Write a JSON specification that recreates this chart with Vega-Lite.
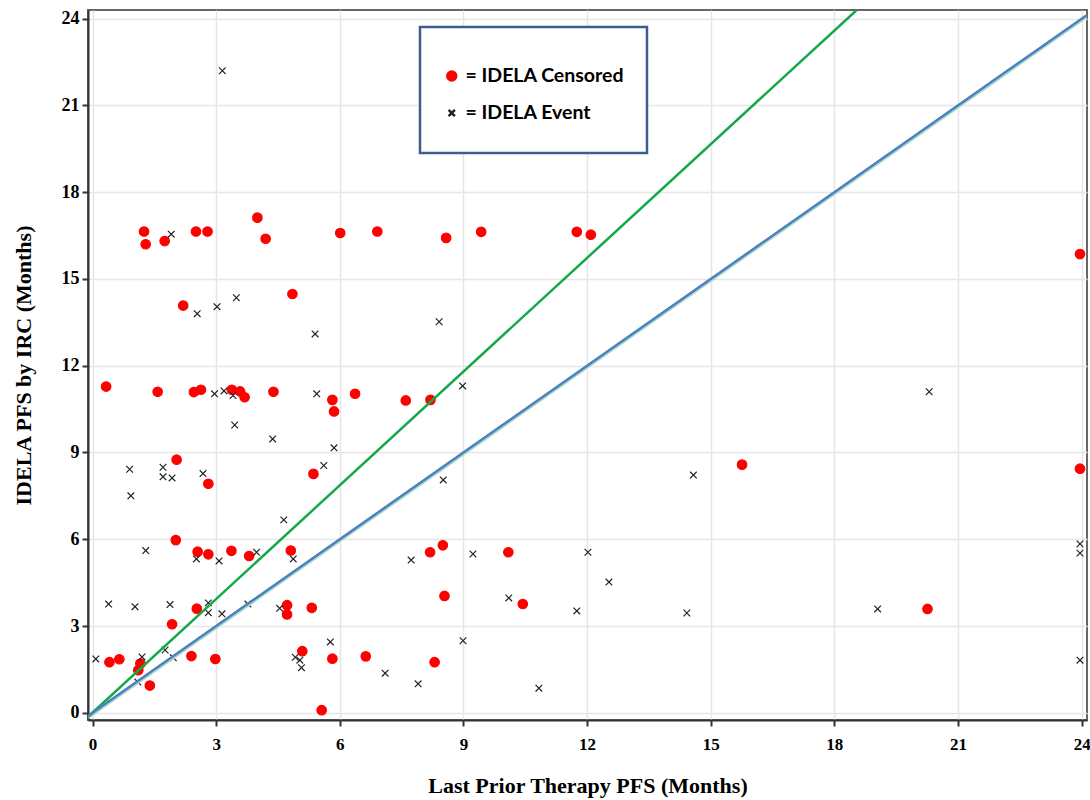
{
  "$schema": "https://vega.github.io/schema/vega-lite/v6.json",
  "width": 999,
  "height": 710,
  "autosize": {"type": "none"},
  "padding": {"left": 88, "top": 10, "right": 3, "bottom": 80},
  "background": "white",
  "datasets": {
    "pts": [
      {"x":1.25,"y":16.64,"s":"IDELA Censored"},{"x":1.29,"y":16.2,"s":"IDELA Censored"},{"x":1.75,"y":16.31,"s":"IDELA Censored"},
      {"x":2.51,"y":16.64,"s":"IDELA Censored"},{"x":2.79,"y":16.64,"s":"IDELA Censored"},{"x":4.0,"y":17.12,"s":"IDELA Censored"},
      {"x":4.2,"y":16.39,"s":"IDELA Censored"},{"x":6.01,"y":16.59,"s":"IDELA Censored"},{"x":6.91,"y":16.64,"s":"IDELA Censored"},
      {"x":8.58,"y":16.42,"s":"IDELA Censored"},{"x":9.43,"y":16.63,"s":"IDELA Censored"},{"x":11.75,"y":16.63,"s":"IDELA Censored"},
      {"x":12.09,"y":16.53,"s":"IDELA Censored"},{"x":2.2,"y":14.08,"s":"IDELA Censored"},{"x":4.85,"y":14.48,"s":"IDELA Censored"},
      {"x":0.33,"y":11.28,"s":"IDELA Censored"},{"x":1.58,"y":11.1,"s":"IDELA Censored"},{"x":2.46,"y":11.09,"s":"IDELA Censored"},
      {"x":2.63,"y":11.17,"s":"IDELA Censored"},{"x":3.38,"y":11.17,"s":"IDELA Censored"},{"x":3.58,"y":11.11,"s":"IDELA Censored"},
      {"x":3.69,"y":10.91,"s":"IDELA Censored"},{"x":4.39,"y":11.1,"s":"IDELA Censored"},{"x":5.82,"y":10.82,"s":"IDELA Censored"},
      {"x":5.86,"y":10.42,"s":"IDELA Censored"},{"x":6.37,"y":11.03,"s":"IDELA Censored"},{"x":7.6,"y":10.8,"s":"IDELA Censored"},
      {"x":8.2,"y":10.82,"s":"IDELA Censored"},{"x":2.04,"y":8.75,"s":"IDELA Censored"},{"x":2.81,"y":7.92,"s":"IDELA Censored"},
      {"x":5.36,"y":8.26,"s":"IDELA Censored"},{"x":15.76,"y":8.58,"s":"IDELA Censored"},{"x":23.96,"y":8.44,"s":"IDELA Censored"},
      {"x":23.96,"y":15.86,"s":"IDELA Censored"},{"x":2.02,"y":5.97,"s":"IDELA Censored"},{"x":2.55,"y":5.57,"s":"IDELA Censored"},
      {"x":2.81,"y":5.48,"s":"IDELA Censored"},{"x":3.37,"y":5.6,"s":"IDELA Censored"},{"x":3.8,"y":5.42,"s":"IDELA Censored"},
      {"x":4.81,"y":5.61,"s":"IDELA Censored"},{"x":8.19,"y":5.55,"s":"IDELA Censored"},{"x":8.5,"y":5.79,"s":"IDELA Censored"},
      {"x":10.09,"y":5.55,"s":"IDELA Censored"},{"x":2.53,"y":3.6,"s":"IDELA Censored"},{"x":4.72,"y":3.72,"s":"IDELA Censored"},
      {"x":4.72,"y":3.4,"s":"IDELA Censored"},{"x":5.32,"y":3.63,"s":"IDELA Censored"},{"x":8.54,"y":4.04,"s":"IDELA Censored"},
      {"x":10.44,"y":3.76,"s":"IDELA Censored"},{"x":20.26,"y":3.59,"s":"IDELA Censored"},{"x":1.93,"y":3.06,"s":"IDELA Censored"},
      {"x":0.41,"y":1.75,"s":"IDELA Censored"},{"x":0.65,"y":1.85,"s":"IDELA Censored"},{"x":1.16,"y":1.7,"s":"IDELA Censored"},
      {"x":1.11,"y":1.47,"s":"IDELA Censored"},{"x":1.39,"y":0.94,"s":"IDELA Censored"},{"x":2.4,"y":1.96,"s":"IDELA Censored"},
      {"x":2.98,"y":1.86,"s":"IDELA Censored"},{"x":5.09,"y":2.13,"s":"IDELA Censored"},{"x":5.82,"y":1.87,"s":"IDELA Censored"},
      {"x":6.63,"y":1.95,"s":"IDELA Censored"},{"x":8.3,"y":1.75,"s":"IDELA Censored"},{"x":5.56,"y":0.09,"s":"IDELA Censored"},
      {"x":3.15,"y":22.2,"s":"IDELA Event"},{"x":1.91,"y":16.55,"s":"IDELA Event"},{"x":2.54,"y":13.8,"s":"IDELA Event"},
      {"x":3.02,"y":14.04,"s":"IDELA Event"},{"x":3.49,"y":14.35,"s":"IDELA Event"},{"x":5.4,"y":13.1,"s":"IDELA Event"},
      {"x":8.41,"y":13.52,"s":"IDELA Event"},{"x":2.96,"y":11.03,"s":"IDELA Event"},{"x":3.19,"y":11.13,"s":"IDELA Event"},
      {"x":3.41,"y":10.97,"s":"IDELA Event"},{"x":5.44,"y":11.03,"s":"IDELA Event"},{"x":8.98,"y":11.3,"s":"IDELA Event"},
      {"x":20.3,"y":11.1,"s":"IDELA Event"},{"x":3.45,"y":9.95,"s":"IDELA Event"},{"x":4.37,"y":9.47,"s":"IDELA Event"},
      {"x":5.86,"y":9.16,"s":"IDELA Event"},{"x":0.9,"y":8.42,"s":"IDELA Event"},{"x":1.71,"y":8.49,"s":"IDELA Event"},
      {"x":5.61,"y":8.55,"s":"IDELA Event"},{"x":1.71,"y":8.16,"s":"IDELA Event"},{"x":1.93,"y":8.12,"s":"IDELA Event"},
      {"x":2.68,"y":8.27,"s":"IDELA Event"},{"x":0.93,"y":7.5,"s":"IDELA Event"},{"x":8.51,"y":8.05,"s":"IDELA Event"},
      {"x":14.58,"y":8.22,"s":"IDELA Event"},{"x":4.64,"y":6.67,"s":"IDELA Event"},{"x":1.29,"y":5.61,"s":"IDELA Event"},
      {"x":2.52,"y":5.32,"s":"IDELA Event"},{"x":3.07,"y":5.25,"s":"IDELA Event"},{"x":3.98,"y":5.55,"s":"IDELA Event"},
      {"x":4.87,"y":5.32,"s":"IDELA Event"},{"x":7.73,"y":5.28,"s":"IDELA Event"},{"x":9.23,"y":5.49,"s":"IDELA Event"},
      {"x":12.02,"y":5.55,"s":"IDELA Event"},{"x":23.96,"y":5.84,"s":"IDELA Event"},{"x":23.96,"y":5.52,"s":"IDELA Event"},
      {"x":12.53,"y":4.52,"s":"IDELA Event"},{"x":0.39,"y":3.76,"s":"IDELA Event"},{"x":1.03,"y":3.67,"s":"IDELA Event"},
      {"x":1.88,"y":3.74,"s":"IDELA Event"},{"x":2.81,"y":3.8,"s":"IDELA Event"},{"x":2.81,"y":3.46,"s":"IDELA Event"},
      {"x":3.14,"y":3.42,"s":"IDELA Event"},{"x":3.77,"y":3.76,"s":"IDELA Event"},{"x":4.54,"y":3.61,"s":"IDELA Event"},
      {"x":10.1,"y":3.97,"s":"IDELA Event"},{"x":11.75,"y":3.52,"s":"IDELA Event"},{"x":14.42,"y":3.45,"s":"IDELA Event"},
      {"x":19.05,"y":3.59,"s":"IDELA Event"},{"x":5.77,"y":2.45,"s":"IDELA Event"},{"x":8.99,"y":2.49,"s":"IDELA Event"},
      {"x":0.08,"y":1.86,"s":"IDELA Event"},{"x":1.2,"y":1.93,"s":"IDELA Event"},{"x":1.1,"y":1.06,"s":"IDELA Event"},
      {"x":1.76,"y":2.17,"s":"IDELA Event"},{"x":1.96,"y":1.9,"s":"IDELA Event"},{"x":4.92,"y":1.92,"s":"IDELA Event"},
      {"x":5.03,"y":1.82,"s":"IDELA Event"},{"x":5.07,"y":1.56,"s":"IDELA Event"},{"x":7.1,"y":1.37,"s":"IDELA Event"},
      {"x":7.9,"y":1.0,"s":"IDELA Event"},{"x":10.83,"y":0.85,"s":"IDELA Event"},{"x":23.96,"y":1.82,"s":"IDELA Event"}
    ],
    "lines": [
      {"x":-0.11,"y":-0.14,"line":"green"},{"x":18.55,"y":24.31,"line":"green"},
      {"x":-0.11,"y":-0.11,"line":"blue"},{"x":24.13,"y":24.13,"line":"blue"}
    ]
  },
  "layer": [
    {
      "data": {"name": "pts"},
      "mark": {"type": "point", "filled": false, "size": 90, "strokeWidth": 1.2, "opacity": 1},
      "encoding": {
        "x": {"field": "x", "type": "quantitative", "scale": {"domain": [-0.11, 24.13], "nice": false, "zero": false},
              "axis": {"values": [0,3,6,9,12,15,18,21,24], "title": "Last Prior Therapy PFS (Months)"}},
        "y": {"field": "y", "type": "quantitative", "scale": {"domain": [-0.25, 24.3], "nice": false, "zero": false},
              "axis": {"values": [0,3,6,9,12,15,18,21,24], "title": "IDELA PFS by IRC (Months)"}},
        "shape": {"field": "s", "type": "nominal",
                  "scale": {"domain": ["IDELA Censored", "IDELA Event"], "range": ["circle", "M-0.7,-0.7L0.7,0.7M-0.7,0.7L0.7,-0.7"]},
                  "legend": {"title": " ", "orient": "none", "legendX": 332, "legendY": 17, "labelExpr": "'= ' + datum.label"}},
        "stroke": {"field": "s", "type": "nominal",
                   "scale": {"domain": ["IDELA Censored", "IDELA Event"], "range": ["#ff0000", "#222222"]}},
        "fill": {"field": "s", "type": "nominal",
                 "scale": {"domain": ["IDELA Censored", "IDELA Event"], "range": ["#ff0000", "transparent"]}}
      }
    },
    {
      "data": {"name": "lines"},
      "transform": [{"filter": "datum.line == 'blue'"}],
      "mark": {"type": "line", "clip": true, "strokeWidth": 3, "color": "#a9d8c6", "yOffset": 1.5},
      "encoding": {
        "x": {"field": "x", "type": "quantitative"},
        "y": {"field": "y", "type": "quantitative"}
      }
    },
    {
      "data": {"name": "lines"},
      "mark": {"type": "line", "clip": true, "strokeWidth": 2.5},
      "encoding": {
        "x": {"field": "x", "type": "quantitative"},
        "y": {"field": "y", "type": "quantitative"},
        "color": {"field": "line", "type": "nominal", "scale": {"domain": ["green", "blue"], "range": ["#14a84a", "#4a80c2"]}, "legend": null}
      }
    }
  ],
  "config": {
    "view": {"stroke": "#666666", "strokeWidth": 2},
    "axis": {
      "grid": true, "gridColor": "#e6e6e6", "gridWidth": 1.5,
      "domainColor": "#333333", "domainWidth": 2,
      "tickColor": "#333333", "tickWidth": 2, "tickSize": 6,
      "labelFont": "Liberation Serif", "labelFontWeight": "bold", "labelColor": "#000000",
      "titleFont": "Liberation Serif", "titleFontWeight": "bold", "titleFontSize": 22, "titleColor": "#000000"
    },
    "axisX": {"labelPadding": 10, "titlePadding": 23, "labelFontSize": 17},
    "axisY": {"labelPadding": 3, "titlePadding": 26, "labelFontSize": 18},
    "legend": {
      "strokeColor": "#3d5d8e", "strokeWidth": 2.5, "padding": 22, "fillColor": "white",
      "titleFontSize": 6, "titlePadding": 3, "clipHeight": 36,
      "labelFont": "Lato", "labelFontWeight": "bold", "labelFontSize": 19.5, "labelColor": "#000000",
      "symbolSize": 80, "symbolStrokeWidth": 2.5, "rowPadding": 1, "labelOffset": 4
    }
  }
}
